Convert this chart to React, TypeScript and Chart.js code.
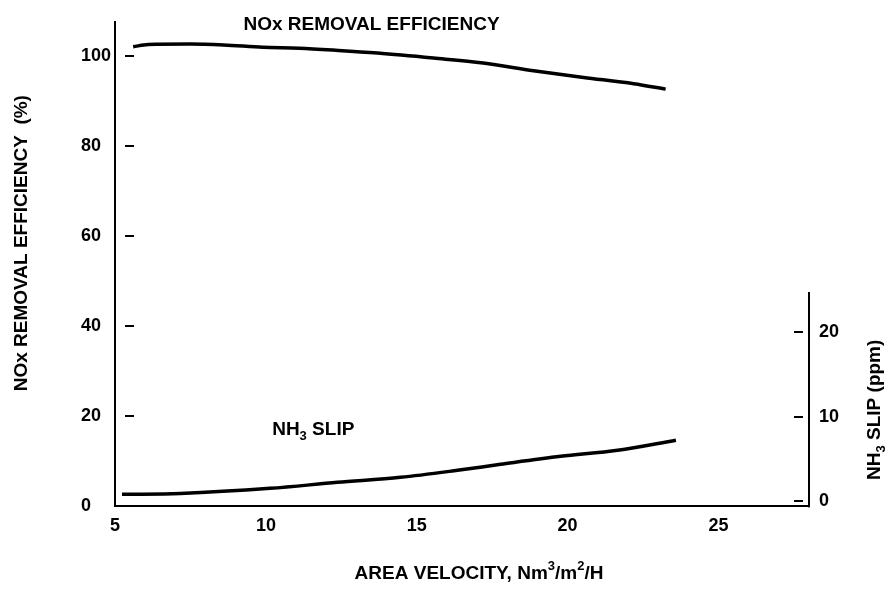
import React, { useEffect, useRef } from "react";
import { Chart, registerables } from "chart.js";

Chart.register(...registerables);

// NOx removal efficiency curve (left axis, %)
const noxVelocity = [5.6, 6.1, 7.5, 8.6, 9.9, 11.1, 12.4, 13.7, 15.55, 17.2, 18.87, 20.53, 22.19, 23.25];
const noxEfficiency = [102.0, 102.5, 102.6, 102.4, 101.9, 101.7, 101.2, 100.6, 99.5, 98.4, 96.7, 95.2, 93.8, 92.6];

// NH3 slip curve (right axis, ppm)
const slipVelocity = [5.23, 7.16, 10.14, 12.37, 14.46, 16.35, 17.78, 19.77, 21.66, 23.59];
const nh3Slip = [0.82, 0.93, 1.53, 2.24, 2.83, 3.66, 4.37, 5.31, 6.02, 7.21];

// tick labels
const xTicks = [5, 10, 15, 20, 25];
const effTicks = [0, 20, 40, 60, 80, 100];
const effInnerTicks = [20, 40, 60, 80, 100];
const slipTicks = [0, 10, 20];

// axis ranges
const xMin = 5;
const xMax = 28;
const effMin = 0;
const effMax = 107.5;
const slipMin = -0.6;
const slipMax = 56.56;
const slipAxisTop = 24.7;

const FONT_FAMILY = '"Liberation Sans", Arial, Helvetica, sans-serif';
const TEXT_SIZE = 19;

type Part = { t: string; sub?: boolean; sup?: boolean };

function drawRich(ctx: CanvasRenderingContext2D, parts: Part[], cx: number, cy: number, size: number) {
  const small = Math.round(size * 0.68);
  const fontFor = (p: Part) => `bold ${p.sub || p.sup ? small : size}px ${FONT_FAMILY}`;
  let total = 0;
  const widths: number[] = [];
  for (const p of parts) {
    ctx.font = fontFor(p);
    const w = ctx.measureText(p.t).width;
    widths.push(w);
    total += w;
  }
  let x = cx - total / 2;
  ctx.textAlign = "left";
  ctx.textBaseline = "middle";
  parts.forEach((p, i) => {
    ctx.font = fontFor(p);
    const dy = p.sub ? size * 0.35 : p.sup ? -size * 0.38 : 0;
    ctx.fillText(p.t, x, cy + dy);
    x += widths[i];
  });
}

const decorPlugin = {
  id: "decor",
  afterDraw(chart: any) {
    const ctx: CanvasRenderingContext2D = chart.ctx;
    const { left, right, bottom } = chart.chartArea;
    const xs = chart.scales.x;
    const ys = chart.scales.y;
    const y2 = chart.scales.y2;
    ctx.save();
    ctx.strokeStyle = "#000";
    ctx.fillStyle = "#000";
    ctx.lineWidth = 2;
    ctx.lineCap = "butt";

    // inner tick dashes, left axis
    for (const v of effInnerTicks) {
      const py = Math.round(ys.getPixelForValue(v));
      ctx.beginPath();
      ctx.moveTo(left + 10, py);
      ctx.lineTo(left + 19, py);
      ctx.stroke();
    }
    // inner tick dashes, right axis
    for (const v of slipTicks) {
      const py = Math.round(y2.getPixelForValue(v));
      ctx.beginPath();
      ctx.moveTo(right - 15, py);
      ctx.lineTo(right - 6, py);
      ctx.stroke();
    }
    // partial right axis line
    ctx.beginPath();
    ctx.moveTo(right, y2.getPixelForValue(slipAxisTop));
    ctx.lineTo(right, bottom + 1);
    ctx.stroke();

    // curve labels
    drawRich(ctx, [{ t: "NOx REMOVAL EFFICIENCY" }], xs.getPixelForValue(13.5), ys.getPixelForValue(106.9), TEXT_SIZE);
    drawRich(ctx, [{ t: "NH" }, { t: "3", sub: true }, { t: " SLIP" }], xs.getPixelForValue(11.57), ys.getPixelForValue(17.1), TEXT_SIZE);

    // x axis title
    drawRich(
      ctx,
      [{ t: "AREA VELOCITY, Nm" }, { t: "3", sup: true }, { t: "/m" }, { t: "2", sup: true }, { t: "/H" }],
      (left + right) / 2 + 17,
      bottom + 67,
      TEXT_SIZE
    );

    // left axis title
    ctx.save();
    ctx.translate(22, (chart.chartArea.top + bottom) / 2 - 21);
    ctx.rotate(-Math.PI / 2);
    drawRich(ctx, [{ t: "NOx REMOVAL EFFICIENCY  (%)" }], 0, 0, TEXT_SIZE);
    ctx.restore();

    // right axis title
    ctx.save();
    ctx.translate(875, y2.getPixelForValue(10.8));
    ctx.rotate(-Math.PI / 2);
    drawRich(ctx, [{ t: "NH" }, { t: "3", sub: true }, { t: " SLIP (ppm)" }], 0, 0, TEXT_SIZE);
    ctx.restore();

    ctx.restore();
  },
};

export default function App() {
  const canvasRef = useRef<HTMLCanvasElement | null>(null);

  useEffect(() => {
    if (!canvasRef.current) return;
    const tickFont = { family: FONT_FAMILY, size: 18, weight: "bold" as const };
    const chart = new Chart(canvasRef.current, {
      type: "line",
      data: {
        datasets: [
          {
            label: "NOx removal efficiency",
            data: noxVelocity.map((x, i) => ({ x, y: noxEfficiency[i] })),
            xAxisID: "x",
            yAxisID: "y",
            borderColor: "#000",
            borderWidth: 3.5,
            pointRadius: 0,
            cubicInterpolationMode: "monotone",
            fill: false,
          },
          {
            label: "NH3 slip",
            data: slipVelocity.map((x, i) => ({ x, y: nh3Slip[i] })),
            xAxisID: "x",
            yAxisID: "y2",
            borderColor: "#000",
            borderWidth: 3.5,
            pointRadius: 0,
            cubicInterpolationMode: "monotone",
            fill: false,
          },
        ],
      },
      options: {
        responsive: false,
        animation: false,
        layout: { padding: { left: 81, right: 42, top: 22, bottom: 59 } },
        plugins: { legend: { display: false }, tooltip: { enabled: false }, title: { display: false } },
        scales: {
          x: {
            type: "linear",
            position: "bottom",
            min: xMin,
            max: xMax,
            afterBuildTicks: (s: any) => {
              s.ticks = xTicks.map((v) => ({ value: v }));
            },
            grid: { drawOnChartArea: false, drawTicks: false },
            border: { display: true, color: "#000", width: 2 },
            ticks: { color: "#000", font: tickFont, padding: 9, maxRotation: 0 },
          },
          y: {
            type: "linear",
            position: "left",
            min: effMin,
            max: effMax,
            afterBuildTicks: (s: any) => {
              s.ticks = effTicks.map((v) => ({ value: v }));
            },
            grid: { drawOnChartArea: false, drawTicks: false },
            border: { display: true, color: "#000", width: 2 },
            ticks: { color: "#000", font: tickFont, padding: 2, crossAlign: "far" },
          },
          y2: {
            type: "linear",
            position: "right",
            min: slipMin,
            max: slipMax,
            afterBuildTicks: (s: any) => {
              s.ticks = slipTicks.map((v) => ({ value: v }));
            },
            grid: { drawOnChartArea: false, drawTicks: false },
            border: { display: false },
            ticks: { color: "#000", font: tickFont, padding: 10 },
          },
        },
      },
      plugins: [decorPlugin],
    });
    return () => chart.destroy();
  }, []);

  return (
    <div style={{ position: "fixed", left: 0, top: 0, width: 891, height: 605, background: "#fff" }}>
      <canvas ref={canvasRef} width={891} height={605} style={{ display: "block", width: 891, height: 605 }} />
    </div>
  );
}
